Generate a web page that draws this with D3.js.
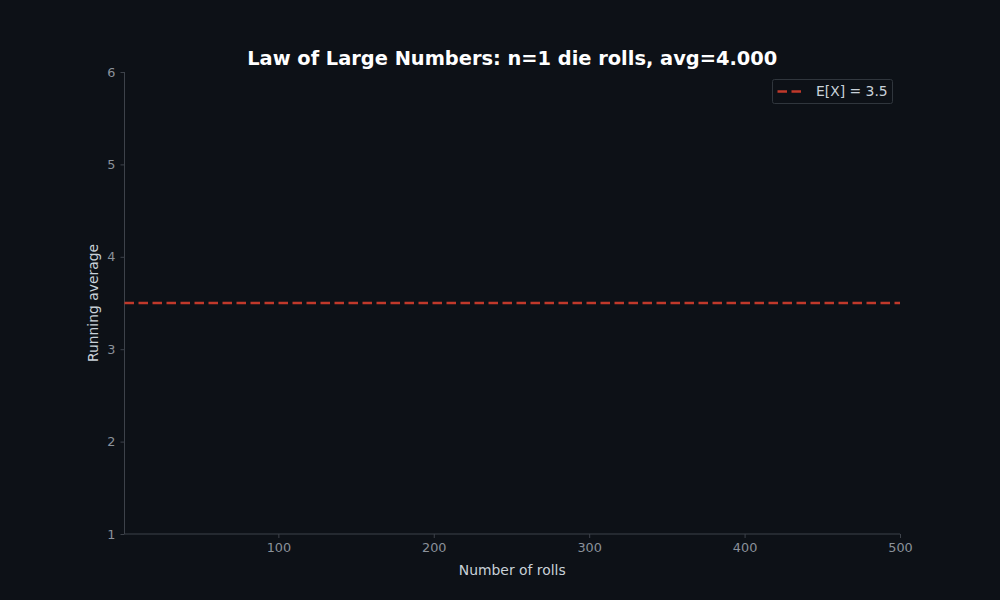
<!DOCTYPE html>
<html>
<head>
<meta charset="utf-8">
<script src="https://cdn.jsdelivr.net/npm/d3@7"></script>
<style>
  html, body { margin: 0; padding: 0; background: #0d1117; }
  svg { display: block; font-family: "DejaVu Sans", sans-serif; }
</style>
</head>
<body>
<svg id="chart" width="1000" height="600"></svg>
<script>
// ---- data ----
const rolls = [4];                 // die rolls observed so far (n=1)
const expectedValue = 3.5;
const xDomain = [1, 500];
const yDomain = [1, 6];
const xTicks = [100, 200, 300, 400, 500];
const yTicks = [1, 2, 3, 4, 5, 6];
const titleText = "Law of Large Numbers: n=1 die rolls, avg=4.000";
const xLabel = "Number of rolls";
const yLabel = "Running average";
const legendLabel = "E[X] = 3.5";

// running average points
let sum = 0;
const running = rolls.map((r, i) => { sum += r; return { n: i + 1, avg: sum / (i + 1) }; });

// ---- layout ----
const svg = d3.select("#chart");
const W = 1000, H = 600;
const m = { left: 124.5, right: 100, top: 72, bottom: 66 };
const x = d3.scaleLinear().domain(xDomain).range([m.left, W - m.right]);
const y = d3.scaleLinear().domain(yDomain).range([H - m.bottom, m.top]);

svg.append("rect").attr("width", W).attr("height", H).attr("fill", "#0d1117");

const spine = "#3d424a", tickTxt = "#8b929b", labelTxt = "#c9d1d9";

// axes
const xAxis = svg.append("g").attr("transform", `translate(0,${y(yDomain[0])})`)
  .call(d3.axisBottom(x).tickValues(xTicks).tickSize(4).tickPadding(5).tickFormat(d3.format("d")));
const yAxis = svg.append("g").attr("transform", `translate(${x(xDomain[0])},0)`)
  .call(d3.axisLeft(y).tickValues(yTicks).tickSize(4).tickPadding(5).tickFormat(d3.format("d")));
[xAxis, yAxis].forEach(g => {
  g.select(".domain").attr("stroke", spine).attr("stroke-width", 1);
  g.selectAll(".tick line").attr("stroke", spine);
  g.selectAll(".tick text").attr("fill", tickTxt).style("font-size", "12.8px")
   .style("font-family", "DejaVu Sans, sans-serif");
});
xAxis.select(".domain").attr("d", `M${x(xDomain[0])},0H${x(xDomain[1])}`);
yAxis.select(".domain").attr("d", `M0,${y(yDomain[0])}V${y(yDomain[1])}`);

// expected value line
svg.append("line")
  .attr("x1", x(xDomain[0])).attr("x2", x(xDomain[1]))
  .attr("y1", y(expectedValue)).attr("y2", y(expectedValue))
  .attr("stroke", "#c0392b").attr("stroke-width", 2.5)
  .attr("stroke-dasharray", "9.5,4.5");

// running average line
svg.append("path").datum(running)
  .attr("fill", "none").attr("stroke", "#58a6ff").attr("stroke-width", 1.5)
  .attr("d", d3.line().x(d => x(d.n)).y(d => y(d.avg)));

// title & labels
svg.append("text").attr("x", (m.left + W - m.right) / 2).attr("y", 64.5)
  .attr("text-anchor", "middle").attr("fill", "#ffffff")
  .style("font-size", "19.4px").style("font-weight", "bold").text(titleText);
svg.append("text").attr("x", (m.left + W - m.right) / 2).attr("y", 574.5)
  .attr("text-anchor", "middle").attr("fill", labelTxt)
  .style("font-size", "13.9px").text(xLabel);
svg.append("text").attr("transform", `translate(98,${(y(yDomain[0]) + y(yDomain[1])) / 2}) rotate(-90)`)
  .attr("text-anchor", "middle").attr("fill", labelTxt)
  .style("font-size", "13.9px").text(yLabel);

// legend
const lg = svg.append("g").attr("transform", "translate(772.5,79.5)");
lg.append("rect").attr("width", 120).attr("height", 24).attr("rx", 2)
  .attr("fill", "#0d1117").attr("stroke", "#30363d").attr("stroke-width", 1);
lg.append("line").attr("x1", 5).attr("x2", 32).attr("y1", 12).attr("y2", 12)
  .attr("stroke", "#c0392b").attr("stroke-width", 2.5).attr("stroke-dasharray", "9.5,4.5");
lg.append("text").attr("x", 43.5).attr("y", 16.8).attr("fill", labelTxt)
  .style("font-size", "13.9px").text(legendLabel);
</script>
</body>
</html>
